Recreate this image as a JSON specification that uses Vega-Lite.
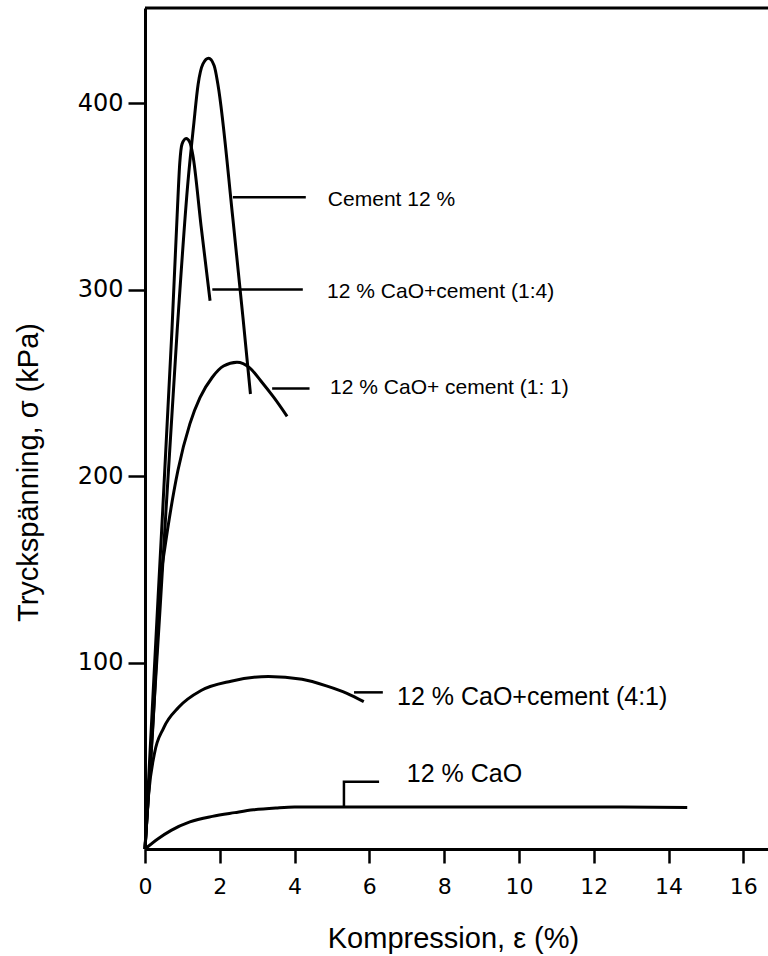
{
  "$schema": "https://vega.github.io/schema/vega-lite/v6.json",
  "autosize": "none",
  "width": 623,
  "height": 841,
  "padding": {"left": 145, "top": 8, "right": 0, "bottom": 107},
  "background": "white",
  "config": {"view": {"stroke": null}},
  "datasets": {
    "curves": [
      {"series": "Cement 12 %", "o": 1, "x": 0, "y": 0},
      {"series": "Cement 12 %", "o": 2, "x": 0.4, "y": 128},
      {"series": "Cement 12 %", "o": 3, "x": 0.86, "y": 278},
      {"series": "Cement 12 %", "o": 4, "x": 1.15, "y": 358},
      {"series": "Cement 12 %", "o": 5, "x": 1.3, "y": 388},
      {"series": "Cement 12 %", "o": 6, "x": 1.42, "y": 410},
      {"series": "Cement 12 %", "o": 7, "x": 1.55, "y": 421},
      {"series": "Cement 12 %", "o": 8, "x": 1.7, "y": 424},
      {"series": "Cement 12 %", "o": 9, "x": 1.85, "y": 420},
      {"series": "Cement 12 %", "o": 10, "x": 1.95, "y": 410},
      {"series": "Cement 12 %", "o": 11, "x": 2.35, "y": 338},
      {"series": "Cement 12 %", "o": 12, "x": 2.62, "y": 285},
      {"series": "Cement 12 %", "o": 13, "x": 2.82, "y": 244},
      {"series": "1:4", "o": 1, "x": 0, "y": 0},
      {"series": "1:4", "o": 2, "x": 0.35, "y": 135},
      {"series": "1:4", "o": 3, "x": 0.72, "y": 278},
      {"series": "1:4", "o": 4, "x": 0.86, "y": 340},
      {"series": "1:4", "o": 5, "x": 0.93, "y": 368},
      {"series": "1:4", "o": 6, "x": 0.99, "y": 378},
      {"series": "1:4", "o": 7, "x": 1.1, "y": 381},
      {"series": "1:4", "o": 8, "x": 1.2, "y": 379},
      {"series": "1:4", "o": 9, "x": 1.28, "y": 372},
      {"series": "1:4", "o": 10, "x": 1.5, "y": 334},
      {"series": "1:4", "o": 11, "x": 1.74, "y": 294},
      {"series": "1:1", "o": 1, "x": 0, "y": 0},
      {"series": "1:1", "o": 2, "x": 0.2, "y": 62},
      {"series": "1:1", "o": 3, "x": 0.45, "y": 150},
      {"series": "1:1", "o": 4, "x": 0.52, "y": 160},
      {"series": "1:1", "o": 5, "x": 0.88, "y": 203},
      {"series": "1:1", "o": 6, "x": 1.2, "y": 228},
      {"series": "1:1", "o": 7, "x": 1.47, "y": 242},
      {"series": "1:1", "o": 8, "x": 1.8, "y": 253},
      {"series": "1:1", "o": 9, "x": 2.1, "y": 259},
      {"series": "1:1", "o": 10, "x": 2.46, "y": 261},
      {"series": "1:1", "o": 11, "x": 2.8, "y": 258},
      {"series": "1:1", "o": 12, "x": 3.1, "y": 251},
      {"series": "1:1", "o": 13, "x": 3.45, "y": 242},
      {"series": "1:1", "o": 14, "x": 3.8, "y": 232},
      {"series": "4:1", "o": 1, "x": 0, "y": 0},
      {"series": "4:1", "o": 2, "x": 0.1, "y": 30},
      {"series": "4:1", "o": 3, "x": 0.25, "y": 51},
      {"series": "4:1", "o": 4, "x": 0.5, "y": 65},
      {"series": "4:1", "o": 5, "x": 0.9, "y": 76},
      {"series": "4:1", "o": 6, "x": 1.5, "y": 85},
      {"series": "4:1", "o": 7, "x": 2.3, "y": 90},
      {"series": "4:1", "o": 8, "x": 3.3, "y": 92.5},
      {"series": "4:1", "o": 9, "x": 4.2, "y": 91},
      {"series": "4:1", "o": 10, "x": 4.85, "y": 87.5},
      {"series": "4:1", "o": 11, "x": 5.4, "y": 83.5},
      {"series": "4:1", "o": 12, "x": 5.85, "y": 79},
      {"series": "CaO", "o": 1, "x": 0, "y": 0},
      {"series": "CaO", "o": 2, "x": 0.35, "y": 5.5},
      {"series": "CaO", "o": 3, "x": 0.7, "y": 10},
      {"series": "CaO", "o": 4, "x": 1.2, "y": 14.5},
      {"series": "CaO", "o": 5, "x": 1.8, "y": 17.5},
      {"series": "CaO", "o": 6, "x": 2.4, "y": 19.5},
      {"series": "CaO", "o": 7, "x": 2.9, "y": 21},
      {"series": "CaO", "o": 8, "x": 3.5, "y": 22},
      {"series": "CaO", "o": 9, "x": 4, "y": 22.5},
      {"series": "CaO", "o": 10, "x": 8, "y": 22.5},
      {"series": "CaO", "o": 11, "x": 12, "y": 22.5},
      {"series": "CaO", "o": 12, "x": 14.5, "y": 22.3}
    ],
    "leaders": [
      {"leader": "L1", "o": 1, "x": 2.35, "y": 349.5},
      {"leader": "L1", "o": 2, "x": 4.3, "y": 349.5},
      {"leader": "L2", "o": 1, "x": 1.8, "y": 300},
      {"leader": "L2", "o": 2, "x": 4.22, "y": 300},
      {"leader": "L3", "o": 1, "x": 3.4, "y": 247},
      {"leader": "L3", "o": 2, "x": 4.4, "y": 247},
      {"leader": "L4", "o": 1, "x": 5.59, "y": 84},
      {"leader": "L4", "o": 2, "x": 6.36, "y": 84},
      {"leader": "L5", "o": 1, "x": 5.32, "y": 22.5},
      {"leader": "L5", "o": 2, "x": 5.32, "y": 36},
      {"leader": "L5", "o": 3, "x": 6.26, "y": 36}
    ],
    "labelsUpper": [
      {"text": "Cement 12 %", "x": 4.89, "y": 348},
      {"text": "12 % CaO+cement (1:4)", "x": 4.87, "y": 298.7},
      {"text": "12 % CaO+ cement (1: 1)", "x": 4.95, "y": 247}
    ],
    "labelsLower": [
      {"text": "12 % CaO+cement (4:1)", "x": 6.74, "y": 81.5},
      {"text": "12 % CaO", "x": 7.0, "y": 40}
    ]
  },
  "layer": [
    {
      "data": {"name": "curves"},
      "mark": {"type": "line", "color": "black", "strokeWidth": 3, "interpolate": "monotone"},
      "encoding": {
        "x": {
          "field": "x",
          "type": "quantitative",
          "scale": {"domain": [0, 16.66], "nice": false, "zero": false},
          "axis": {
            "title": "Kompression, ε (%)",
            "values": [0, 1, 2, 3, 4, 5, 6, 7, 8, 9, 10, 11, 12, 13, 14, 15, 16],
            "labelExpr": "datum.value % 2 === 0 ? datum.label : ''",
            "grid": false,
            "domainColor": "black",
            "domainWidth": 3,
            "tickColor": "black",
            "tickWidth": 2.5,
            "tickSize": {"condition": {"test": "datum.value % 2 === 1", "value": 8}, "value": 14},
            "labelFont": "DejaVu Sans",
            "labelFontSize": 22,
            "labelColor": "black",
            "labelBaseline": "alphabetic",
            "labelPadding": 30,
            "labelFlush": false,
            "titleFont": "Liberation Sans",
            "titleFontSize": 29,
            "titleFontWeight": "normal",
            "titleColor": "black",
            "titleX": 308,
            "titleY": 98,
            "titleBaseline": "alphabetic",
            "titleAlign": "center"
          }
        },
        "y": {
          "field": "y",
          "type": "quantitative",
          "scale": {"domain": [0, 451], "nice": false},
          "axis": {
            "title": "Tryckspänning, σ (kPa)",
            "values": [100, 200, 300, 400],
            "grid": false,
            "domainColor": "black",
            "domainWidth": 3,
            "tickColor": "black",
            "tickWidth": 2.5,
            "tickSize": 17,
            "labelFont": "DejaVu Sans",
            "labelFontSize": 24,
            "labelColor": "black",
            "labelPadding": 5,
            "titleFont": "Liberation Sans",
            "titleFontSize": 29,
            "titleFontWeight": "normal",
            "titleColor": "black",
            "titleAngle": -90,
            "titleX": -117,
            "titleY": 464,
            "titleBaseline": "middle",
            "titleAlign": "center"
          }
        },
        "detail": {"field": "series"},
        "order": {"field": "o", "type": "quantitative"}
      }
    },
    {
      "data": {"name": "leaders"},
      "mark": {"type": "line", "color": "black", "strokeWidth": 2.5},
      "encoding": {
        "x": {"field": "x", "type": "quantitative"},
        "y": {"field": "y", "type": "quantitative"},
        "detail": {"field": "leader"},
        "order": {"field": "o", "type": "quantitative"}
      }
    },
    {
      "data": {"name": "labelsUpper"},
      "mark": {"type": "text", "align": "left", "baseline": "middle", "font": "Liberation Sans", "fontSize": 21, "color": "black"},
      "encoding": {
        "x": {"field": "x", "type": "quantitative"},
        "y": {"field": "y", "type": "quantitative"},
        "text": {"field": "text"}
      }
    },
    {
      "data": {"name": "labelsLower"},
      "mark": {"type": "text", "align": "left", "baseline": "middle", "font": "Liberation Sans", "fontSize": 25, "color": "black"},
      "encoding": {
        "x": {"field": "x", "type": "quantitative"},
        "y": {"field": "y", "type": "quantitative"},
        "text": {"field": "text"}
      }
    },
    {
      "data": {"values": [{}]},
      "mark": {"type": "rule", "color": "black", "strokeWidth": 3},
      "encoding": {"y": {"datum": 451}}
    }
  ]
}
